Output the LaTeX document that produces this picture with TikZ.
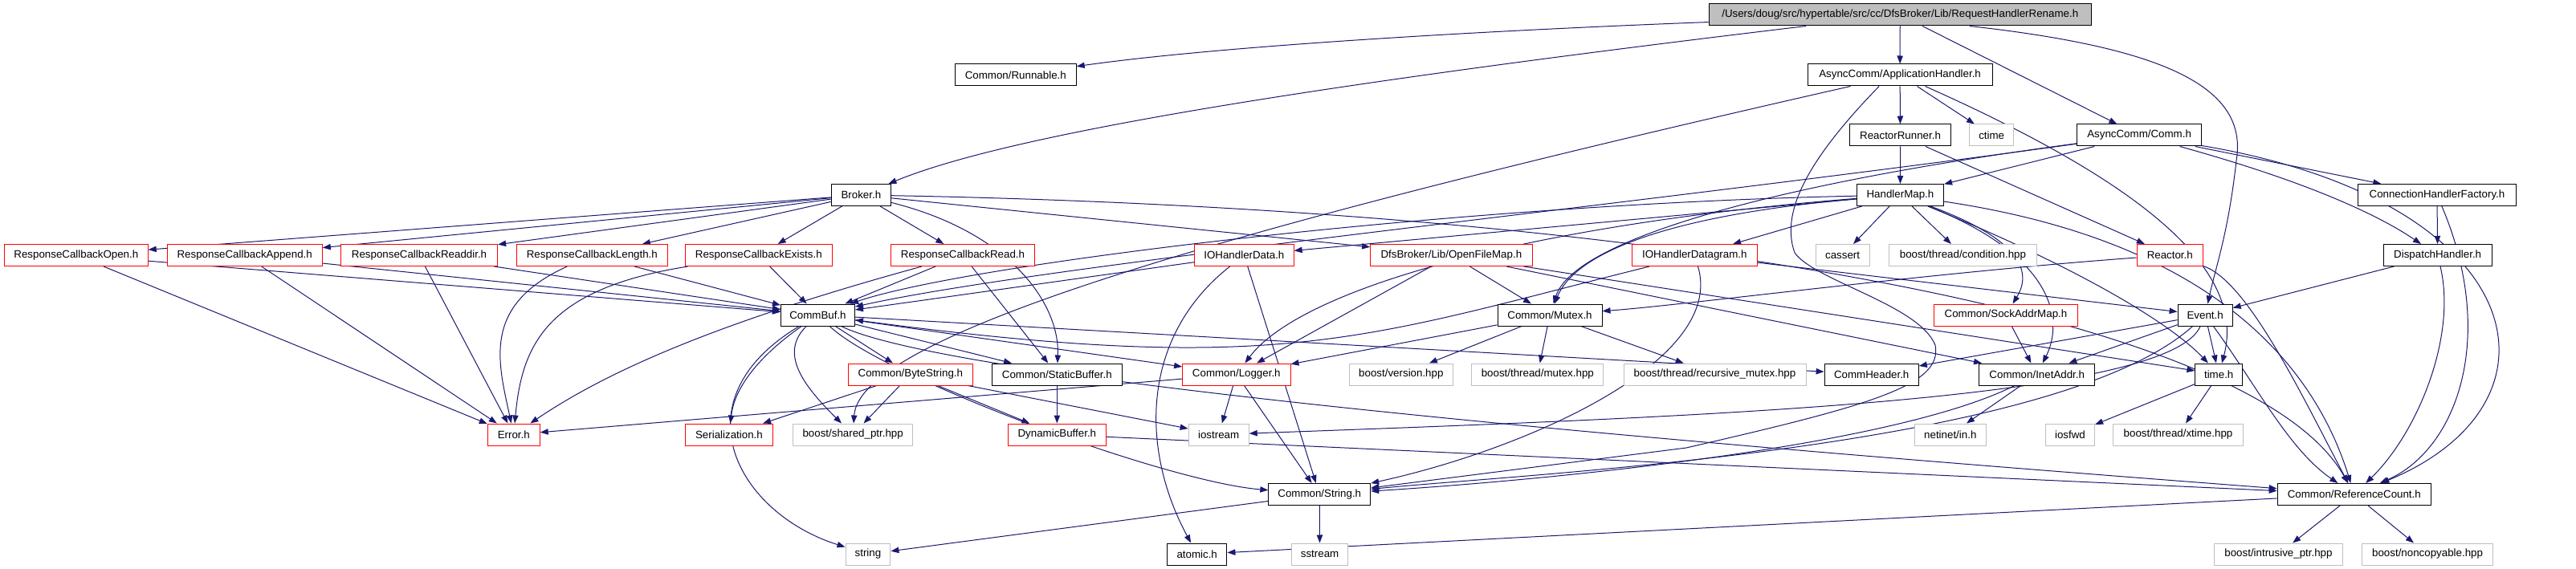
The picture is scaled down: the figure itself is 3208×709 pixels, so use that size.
\documentclass[tikz,border=0pt]{standalone}
\usepackage{fontspec}
\setmainfont{Liberation Sans}
\usetikzlibrary{arrows.meta}
\definecolor{edgec}{HTML}{191970}
\definecolor{grayb}{HTML}{BFBFBF}
\pgfdeclarelayer{bg}
\pgfsetlayers{bg,main}
\newcommand\dnode[6]{\node[#5, minimum width={(#3-#2)*0.75pt}] (#1) at ({(#2+#3)/2},#4) {#6};}
\tikzset{
  base/.style={draw, line width=0.75pt, inner sep=0pt, minimum height=20.25pt, fill=white, font=\fontsize{10}{12}\selectfont},
  nb/.style={base, draw=black},
  nr/.style={base, draw=red},
  ng/.style={base, draw=grayb},
  nmain/.style={base, draw=black, fill=grayb},
  dep/.style={draw=edgec, line width=0.75pt, -{Triangle[length=7.5pt,width=5.5pt]}, fill=none}
}
\begin{document}
\begin{tikzpicture}[x=0.75pt,y=-0.75pt]
\useasboundingbox (0,0) rectangle (3208,709);
% row 0
\dnode{main}{2128}{2604.5}{18.5}{nmain}{/Users/doug/src/hypertable/src/cc/DfsBroker/Lib/RequestHandlerRename.h}
% row 1
\dnode{runnable}{1189.4}{1340.2}{93.5}{nb}{Common/Runnable.h}
\dnode{apph}{2251}{2481.2}{93.5}{nb}{AsyncComm/ApplicationHandler.h}
% row 2
\dnode{rrunner}{2303.5}{2429.5}{168.5}{nb}{ReactorRunner.h}
\dnode{ctime}{2452.6}{2507.8}{168.5}{ng}{ctime}
\dnode{comm}{2586.8}{2741.4}{168.5}{nb}{AsyncComm/Comm.h}
% row 3
\dnode{broker}{1035.2}{1109.6}{243}{nb}{Broker.h}
\dnode{hmap}{2312.3}{2420.6}{243}{nb}{HandlerMap.h}
\dnode{connfact}{2936.9}{3133}{243}{nb}{ConnectionHandlerFactory.h}
% row 4
\dnode{rcopen}{5.5}{184.2}{318}{nr}{ResponseCallbackOpen.h}
\dnode{rcappend}{208.1}{401.3}{318}{nr}{ResponseCallbackAppend.h}
\dnode{rcreaddir}{424.5}{619.6}{318}{nr}{ResponseCallbackReaddir.h}
\dnode{rclength}{643.5}{831.2}{318}{nr}{ResponseCallbackLength.h}
\dnode{rcexists}{853}{1036.6}{318}{nr}{ResponseCallbackExists.h}
\dnode{rcread}{1109.6}{1288.4}{318}{nr}{ResponseCallbackRead.h}
\dnode{iodata}{1487.6}{1611.1}{318}{nr}{IOHandlerData.h}
\dnode{ofmap}{1706.7}{1908}{318}{nr}{DfsBroker/Lib/OpenFileMap.h}
\dnode{iodgram}{2032.2}{2188.4}{318}{nr}{IOHandlerDatagram.h}
\dnode{cassert}{2261.2}{2328}{318}{ng}{cassert}
\dnode{condition}{2352.5}{2536.4}{318}{ng}{boost/thread/condition.hpp}
\dnode{reactor}{2661}{2743.5}{318}{nr}{Reactor.h}
\dnode{dispatch}{2968.2}{3103.1}{318}{nb}{DispatchHandler.h}
% row 5
\dnode{commbuf}{972.4}{1064.5}{392.5}{nb}{CommBuf.h}
\dnode{mutex}{1865}{1995}{392.5}{nb}{Common/Mutex.h}
\dnode{sockaddr}{2408.4}{2587.5}{392.5}{nr}{Common/SockAddrMap.h}
\dnode{event}{2712.1}{2780.2}{392.5}{nb}{Event.h}
% row 6
\dnode{bytestring}{1056.4}{1211.3}{466.5}{nr}{Common/ByteString.h}
\dnode{staticbuf}{1235.1}{1397.6}{466.5}{nb}{Common/StaticBuffer.h}
\dnode{logger}{1472.6}{1607}{466.5}{nr}{Common/Logger.h}
\dnode{bversion}{1680.7}{1809}{466.5}{ng}{boost/version.hpp}
\dnode{bmutex}{1832.9}{1996.7}{466.5}{ng}{boost/thread/mutex.hpp}
\dnode{brecmutex}{2022}{2249}{466.5}{ng}{boost/thread/recursive\_mutex.hpp}
\dnode{commheader}{2272.1}{2389.3}{466.5}{nb}{CommHeader.h}
\dnode{inetaddr}{2464.9}{2608.6}{466.5}{nb}{Common/InetAddr.h}
\dnode{timeh}{2733.9}{2792.5}{466.5}{nb}{time.h}
% row 7
\dnode{error}{607.3}{672.2}{541.5}{nr}{Error.h}
\dnode{serial}{853}{962.9}{541.5}{nr}{Serialization.h}
\dnode{sharedptr}{987.4}{1136.9}{541.5}{ng}{boost/shared\_ptr.hpp}
\dnode{dynbuf}{1255.6}{1377.1}{541.5}{nr}{DynamicBuffer.h}
\dnode{iostream}{1480.1}{1555.2}{541.5}{ng}{iostream}
\dnode{netinet}{2384.5}{2473.1}{541.5}{ng}{netinet/in.h}
\dnode{iosfwd}{2547.3}{2608.6}{541.5}{ng}{iosfwd}
\dnode{xtime}{2631.8}{2793.2}{541.5}{ng}{boost/thread/xtime.hpp}
% row 8
\dnode{stringh}{1579.8}{1706.7}{616}{nb}{Common/String.h}
\dnode{refcount}{2836.1}{3027.5}{616}{nb}{Common/ReferenceCount.h}
% row 9
\dnode{stringstd}{1053}{1108.9}{690.5}{ng}{string}
\dnode{atomic}{1453.5}{1527.9}{690.5}{nb}{atomic.h}
\dnode{sstream}{1608.4}{1678.7}{690.5}{ng}{sstream}
\dnode{intrusive}{2757.8}{2917.1}{690.5}{ng}{boost/intrusive\_ptr.hpp}
\dnode{noncopy}{2941.7}{3104.4}{690.5}{ng}{boost/noncopyable.hpp}

\begin{pgfonlayer}{bg}
% main
\draw[dep] (main) .. controls (1800,40) and (1500,60) .. (runnable);
\draw[dep] (main) .. controls (1600,110) and (1250,170) .. (broker);
\draw[dep] (main) -- (apph);
\draw[dep] (main) -- (comm);
\draw[dep] ([xshift=65pt]main.south) .. controls (2700,60) and (2800,110) .. (2785,200)
   .. controls (2775,290) and (2760,330) .. (event);
% application handler
\draw[dep] (apph) -- (rrunner);
\draw[dep] (apph) -- (ctime);
\draw[dep] (apph) .. controls (1500,290) and (1070,420) .. (sharedptr);
\draw[dep] (apph) .. controls (2650,220) and (2800,330) .. (timeh);
\draw[dep] ([xshift=-19.5pt]apph.south) .. controls (2260,190) and (2215,260) .. (2235,315)
   .. controls (2260,350) and (2390,380) .. (2410,430)
   .. controls (2420,480) and (2330,505) .. (2100,558) -- (stringh);
% reactor runner
\draw[dep] (rrunner) -- (hmap);
\draw[dep] (rrunner) -- (reactor);
% comm
\draw[dep] (comm) -- (hmap);
\draw[dep] (comm) -- (connfact);
\draw[dep] (comm) .. controls (2850,220) and (2950,260) .. (dispatch);
\draw[dep] (comm) .. controls (3150,250) and (3210,500) .. (refcount);
\draw[dep] (comm) .. controls (2000,260) and (1300,330) .. (commbuf);
\draw[dep] (comm) .. controls (2200,230) and (1960,300) .. (mutex);
% connection handler factory / dispatch
\draw[dep] (connfact) -- (dispatch);
\draw[dep] (connfact) .. controls (3110,420) and (3060,560) .. (refcount);
\draw[dep] (dispatch) -- (event);
\draw[dep] (dispatch) .. controls (3060,420) and (3010,540) .. (refcount);
% handler map
\draw[dep] (hmap) -- (iodata);
\draw[dep] (hmap) -- (iodgram);
\draw[dep] (hmap) -- (cassert);
\draw[dep] (hmap) -- (condition);
\draw[dep] (hmap) .. controls (2060,270) and (1960,320) .. (mutex);
\draw[dep] (hmap) .. controls (1900,280) and (1620,360) .. (logger);
\draw[dep] (hmap) .. controls (1800,255) and (1200,330) .. (commbuf);
\draw[dep] (hmap) .. controls (2520,300) and (2530,340) .. (sockaddr);
\draw[dep] (hmap) .. controls (2560,320) and (2570,400) .. (inetaddr);
\draw[dep] (hmap) .. controls (2580,330) and (2700,400) .. (timeh);
\draw[dep] (hmap) .. controls (2750,300) and (2880,450) .. (refcount);
% reactor
\draw[dep] (reactor) .. controls (2400,340) and (2100,380) .. (mutex);
\draw[dep] (reactor) .. controls (2800,350) and (2870,500) .. (refcount);
% broker
\draw[dep] (broker) -- (rcopen);
\draw[dep] (broker) -- (rcappend);
\draw[dep] (broker) -- (rcreaddir);
\draw[dep] (broker) -- (rclength);
\draw[dep] (broker) -- (rcexists);
\draw[dep] (broker) -- (rcread);
\draw[dep] (broker) -- (ofmap);
\draw[dep] (broker) .. controls (1260,290) and (1320,380) .. (staticbuf);
\draw[dep] (broker) .. controls (2000,260) and (2800,380) .. (refcount);
% response callbacks
\draw[dep] (rcopen) -- (error);
\draw[dep] (rcappend) -- (error);
\draw[dep] (rcreaddir) -- (error);
\draw[dep] (rclength) .. controls (600,380) and (620,450) .. (error);
\draw[dep] (rcexists) .. controls (680,360) and (650,430) .. (error);
\draw[dep] (rcread) .. controls (900,400) and (760,460) .. (error);
\draw[dep] (rcopen) -- (commbuf);
\draw[dep] (rcappend) -- (commbuf);
\draw[dep] (rcreaddir) -- (commbuf);
\draw[dep] (rclength) -- (commbuf);
\draw[dep] (rcexists) -- (commbuf);
\draw[dep] (rcread) -- (commbuf);
\draw[dep] (rcread) -- (staticbuf);
% io handlers
\draw[dep] (iodata) -- (commbuf);
\draw[dep] (iodata) .. controls (1420,420) and (1420,560) .. (atomic);
\draw[dep] (iodata) -- (stringh);
\draw[dep] (iodgram) .. controls (1700,420) and (1600,470) .. (commbuf);
\draw[dep] (iodgram) .. controls (2150,450) and (1900,560) .. (stringh);
\draw[dep] (iodgram) -- (event);
% open file map
\draw[dep] (ofmap) -- (mutex);
\draw[dep] (ofmap) -- (logger);
\draw[dep] (ofmap) -- (timeh);
\draw[dep] (ofmap) -- (inetaddr);
% commbuf
\draw[dep] (commbuf) -- (bytestring);
\draw[dep] (commbuf) -- (staticbuf);
\draw[dep] (commbuf) -- (logger);
\draw[dep] (commbuf) -- (commheader);
\draw[dep] (commbuf) .. controls (950,440) and (915,480) .. (serial);
\draw[dep] (commbuf) .. controls (970,440) and (1000,480) .. (sharedptr);
\draw[dep] (commbuf) .. controls (840,500) and (920,640) .. (stringstd);
\draw[dep] (commbuf) .. controls (1100,470) and (1450,600) .. (stringh);
\draw[dep] (commbuf) .. controls (1200,480) and (2200,560) .. (refcount);
% bytestring etc
\draw[dep] (bytestring) -- (serial);
\draw[dep] (bytestring) -- (sharedptr);
\draw[dep] (bytestring) -- (dynbuf);
\draw[dep] (bytestring) -- (iostream);
\draw[dep] (staticbuf) -- (dynbuf);
\draw[dep] (dynbuf) -- (refcount);
% logger
\draw[dep] (logger) -- (error);
\draw[dep] (logger) -- (iostream);
\draw[dep] (logger) -- (stringh);
% mutex
\draw[dep] (mutex) -- (logger);
\draw[dep] (mutex) -- (bversion);
\draw[dep] (mutex) -- (bmutex);
\draw[dep] (mutex) -- (brecmutex);
% sockaddr, event
\draw[dep] (sockaddr) -- (inetaddr);
\draw[dep] (event) -- (commheader);
\draw[dep] (event) -- (inetaddr);
\draw[dep] (event) -- (timeh);
\draw[dep] (event) .. controls (2810,480) and (2850,560) .. (refcount);
\draw[dep] (event) .. controls (2560,560) and (1900,590) .. (stringh);
\draw[dep] (event) .. controls (2700,500) and (2100,520) .. (iostream);
% inetaddr, time
\draw[dep] (inetaddr) -- (netinet);
\draw[dep] (inetaddr) .. controls (2350,560) and (1900,600) .. (stringh);
\draw[dep] (timeh) -- (iosfwd);
\draw[dep] (timeh) -- (xtime);
% string, refcount
\draw[dep] (stringh) -- (stringstd);
\draw[dep] (stringh) -- (sstream);
\draw[dep] (refcount) -- (atomic);
\draw[dep] (refcount) -- (intrusive);
\draw[dep] (refcount) -- (noncopy);
\end{pgfonlayer}
\end{tikzpicture}
\end{document}
